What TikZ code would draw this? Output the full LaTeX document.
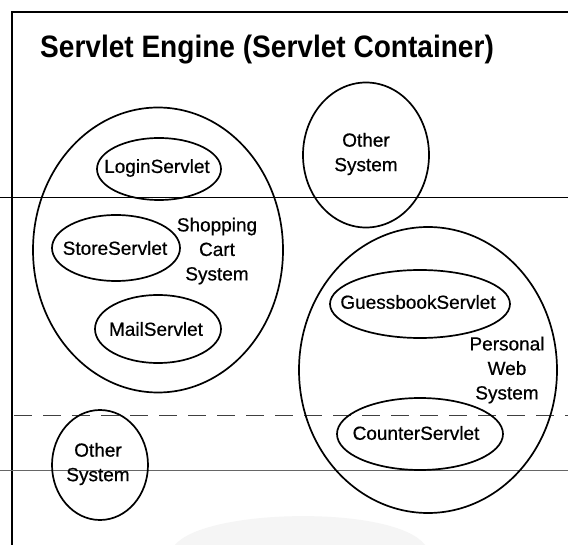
\documentclass[tikz,border=0pt]{standalone}
\usepackage{fontspec}
\setmainfont{Liberation Sans}
\newfontfamily\scanfont[FakeBold=0.6]{Liberation Sans}
\usetikzlibrary{shapes.geometric}
\begin{document}
\begin{tikzpicture}[x=1pt,y=-1pt,
  ring/.style={draw=black,ellipse,line width=1.7pt,inner sep=0pt},
  lbl/.style={font=\scanfont\fontsize{19}{24.5}\selectfont,align=center,inner sep=0pt,text=black},
  rule/.style={line width=0.9pt}]
\useasboundingbox (0,0) rectangle (568,545);
\fill[white] (0,0) rectangle (568,545);
% faint watermark arc
\fill[black!4] (175,545) .. controls (205,508) and (395,505) .. (425,545) -- cycle;
% frame
\coordinate (ftl) at (12,12);
\coordinate (ftr) at (568,12);
\coordinate (fbl) at (12,545);
\draw[line width=1.8pt] (ftr) -- (ftl) -- (fbl);
% ruled paper lines
\coordinate (r1a) at (0,197); \coordinate (r1b) at (568,197);
\coordinate (r2a) at (14,415); \coordinate (r2b) at (568,415);
\coordinate (r3a) at (0,470); \coordinate (r3b) at (568,470);
\draw[rule] (r1a) -- (r1b);
\draw[rule,black!75,dash pattern=on 18pt off 11pt] (r2a) -- (r2b);
\draw[rule,black!60] (r3a) -- (r3b);
% title
\node[anchor=base west,inner sep=0pt] (title) at (40,58)
  {\scalebox{0.905}[1]{\fontsize{31}{36}\selectfont\bfseries Servlet Engine (Servlet Container)}};
% shopping cart system
\node[ring,minimum width=250pt,minimum height=285pt] (cart) at (158,250) {};
\node[ring,minimum width=124pt,minimum height=62pt] (login) at (159,169) {};
\node[lbl] (loginT) at (157,168) {LoginServlet};
\node[ring,minimum width=128pt,minimum height=66pt] (store) at (116,248) {};
\node[lbl] (storeT) at (115,248) {StoreServlet};
\node[ring,minimum width=126pt,minimum height=68pt] (mail) at (158,329) {};
\node[lbl] (mailT) at (156,329) {MailServlet};
\node[lbl] (cartT) at (217,251) {Shopping\\Cart\\System};
% other system (top)
\node[ring,minimum width=126pt,minimum height=145pt] (other1) at (366,155) {};
\node[lbl] (other1T) at (366,154) {Other\\System};
% personal web system
\node[ring,minimum width=258pt,minimum height=286pt] (web) at (428,370) {};
\node[ring,minimum width=180pt,minimum height=68pt] (guess) at (420,304) {};
\node[lbl] (guessT) at (418,302) {GuessbookServlet};
\node[ring,minimum width=166pt,minimum height=72pt] (counter) at (420,434) {};
\node[lbl] (counterT) at (416,433) {CounterServlet};
\node[lbl] (webT) at (507,370) {Personal\\Web\\System};
% other system (bottom)
\node[ring,minimum width=96pt,minimum height=110pt] (other2) at (100,465) {};
\node[lbl] (other2T) at (98,464) {Other\\System};
\end{tikzpicture}
\end{document}
